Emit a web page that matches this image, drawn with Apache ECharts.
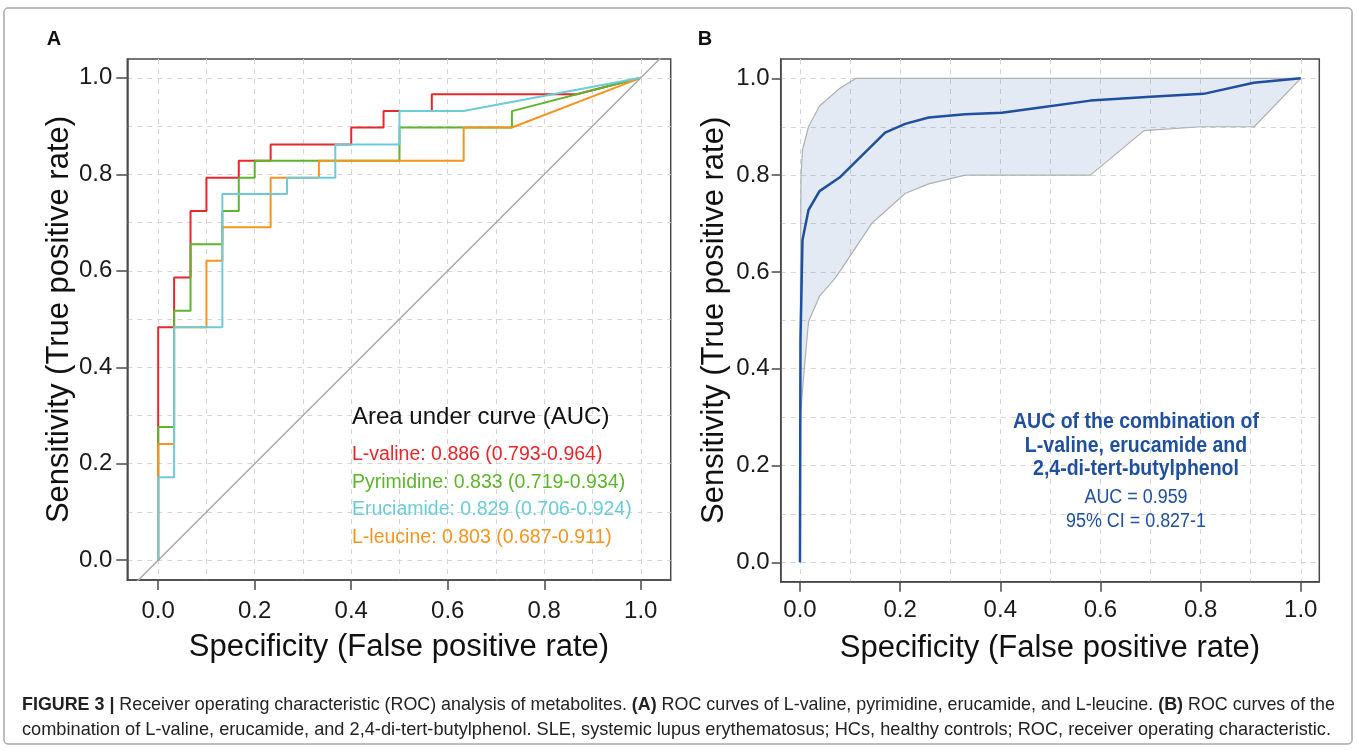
<!DOCTYPE html>
<html>
<head>
<meta charset="utf-8">
<script src="https://cdn.jsdelivr.net/npm/echarts@6/dist/echarts.min.js"></script>
<style>
html, body { margin: 0; padding: 0; background: #fff; }
#main { width: 1357px; height: 750px; }
</style>
</head>
<body>
<div id="main"></div>
<script>
// axis ticks
var tickLabels = [0, 0.2, 0.4, 0.6, 0.8, 1.0];
var gridTicks = [0, 0.1, 0.2, 0.3, 0.4, 0.5, 0.6, 0.7, 0.8, 0.9, 1.0];

// panel A: ROC steps [false positive rate, true positive rate]
var valine = [[0,0],[0,0.483],[0.033,0.483],[0.033,0.586],[0.067,0.586],[0.067,0.724],[0.1,0.724],[0.1,0.793],
  [0.167,0.793],[0.167,0.828],[0.233,0.828],[0.233,0.862],[0.4,0.862],[0.4,0.897],[0.467,0.897],[0.467,0.931],
  [0.567,0.931],[0.567,0.966],[0.867,0.966],[1,1]];
var pyrimidine = [[0,0],[0,0.276],[0.033,0.276],[0.033,0.517],[0.067,0.517],[0.067,0.655],[0.133,0.655],[0.133,0.724],
  [0.167,0.724],[0.167,0.793],[0.2,0.793],[0.2,0.828],[0.5,0.828],[0.5,0.897],[0.733,0.897],[0.733,0.931],[1,1]];
var eruciamide = [[0,0],[0,0.172],[0.033,0.172],[0.033,0.483],[0.133,0.483],[0.133,0.759],[0.267,0.759],[0.267,0.793],
  [0.367,0.793],[0.367,0.862],[0.5,0.862],[0.5,0.931],[0.633,0.931],[1,1]];
var leucine = [[0,0],[0,0.241],[0.033,0.241],[0.033,0.483],[0.1,0.483],[0.1,0.621],[0.133,0.621],[0.133,0.69],
  [0.233,0.69],[0.233,0.793],[0.333,0.793],[0.333,0.828],[0.633,0.828],[0.633,0.897],[0.733,0.897],[1,1]];
var chance = [[-0.05,-0.05],[1.05,1.05]];
var aucTitle = 'Area under curve (AUC)';
var aucLabels = ['L-valine: 0.886 (0.793-0.964)', 'Pyrimidine: 0.833 (0.719-0.934)',
  'Eruciamide: 0.829 (0.706-0.924)', 'L-leucine: 0.803 (0.687-0.911)'];

// panel B: combined model and its confidence band
var combo = [[0,0],[0.001,0.46],[0.005,0.666],[0.017,0.728],[0.039,0.767],[0.079,0.795],[0.17,0.888],[0.21,0.906],
  [0.257,0.919],[0.33,0.926],[0.403,0.929],[0.48,0.94],[0.58,0.954],[0.7,0.962],[0.806,0.968],[0.906,0.991],[1,1]];
var ciUpper = [[0,0],[0.001,0.6],[0.002,0.797],[0.005,0.852],[0.017,0.9],[0.039,0.943],[0.079,0.979],[0.112,1],[1,1]];
var ciLower = [[0,0],[0.001,0.3],[0.005,0.356],[0.017,0.497],[0.039,0.55],[0.067,0.583],[0.079,0.6],[0.143,0.7],
  [0.21,0.762],[0.257,0.782],[0.33,0.8],[0.58,0.8],[0.687,0.892],[0.8,0.9],[0.907,0.9],[1,1]];
var comboText = ['AUC of the combination of', 'L-valine, erucamide and', '2,4-di-tert-butylphenol'];
var comboStats = ['AUC = 0.959', '95% CI = 0.827-1'];

var captionLine1 = 'Receiver operating characteristic (ROC) analysis of metabolites. ';
var captionA = 'ROC curves of L-valine, pyrimidine, erucamide, and L-leucine. ';
var captionB = 'ROC curves of the';
var captionLine2 = 'combination of L-valine, erucamide, and 2,4-di-tert-butylphenol. SLE, systemic lupus erythematosus; HCs, healthy controls; ROC, receiver operating characteristic.';

var sans = '"Liberation Sans", Arial, Helvetica, sans-serif';
var colors = ['#e8262b', '#5db52b', '#f7941d', '#6ccbd9'];
var blue = '#1f4f9f';

// no condensed face is installed: squeeze regular text horizontally to the width it has in the figure
var ctx = document.createElement('canvas').getContext('2d');
function squeeze(text, font, width) {
  ctx.font = font;
  return width / ctx.measureText(text).width;
}
var capFont = '19px ' + sans;
var capBold = 'bold 19px ' + sans;
var capScale = squeeze(captionLine2, capFont, 1309);
ctx.font = capBold;
var boldW = ctx.measureText('FIGURE 3 |(A)(B)').width;
ctx.font = capFont;
var line1W = boldW + ctx.measureText('  ' + captionLine1 + captionA + captionB).width;
var capScale1 = 1308 / line1W;
var boldFont = 'bold 22.5px ' + sans;
var boldScale = squeeze(comboText[0], boldFont, 246);
var statFont = '20px ' + sans;
var statScale = squeeze(comboStats[1], statFont, 140);

function gridAxis(gi, min, max, pos) {
  return {
    type: 'value', gridIndex: gi, min: min, max: max, position: pos,
    axisLine: { show: false, onZero: false },
    axisTick: { show: false, customValues: gridTicks },
    axisLabel: { show: false },
    splitLine: { show: true, lineStyle: { color: '#d5d5d5', type: [5, 5], width: 1 } }
  };
}
function tickAxis(gi, min, max, pos, name, nameGap, tickLen, margin) {
  return {
    type: 'value', gridIndex: gi, min: min, max: max, position: pos,
    axisLine: { show: true, onZero: false, lineStyle: { color: '#4a4a4a', width: 1.5 } },
    axisTick: { show: true, customValues: tickLabels, length: tickLen, lineStyle: { color: '#4a4a4a', width: 1.5 } },
    axisLabel: {
      customValues: tickLabels, margin: margin, fontSize: 24, color: '#1a1a1a', fontFamily: sans,
      formatter: function (v) { return v.toFixed(1); }
    },
    splitLine: { show: false },
    name: name, nameLocation: 'middle', nameGap: nameGap,
    nameTextStyle: { fontSize: 31, color: '#111', fontFamily: sans }
  };
}

var xName = 'Specificity (False positive rate)';
var yName = 'Sensitivity (True positive rate)';

function stepLine(name, data, color) {
  return {
    name: name, type: 'line', xAxisIndex: 0, yAxisIndex: 0, data: data,
    symbol: 'none', lineStyle: { color: color, width: 2 }, itemStyle: { color: color }, silent: true
  };
}

var chart = echarts.init(document.getElementById('main'), null, { renderer: 'canvas' });

var graphics = [
  { type: 'rect', z: 10, shape: { x: 4, y: 8, width: 1348, height: 736, r: 4 }, style: { fill: 'none', stroke: '#a8a8a8', lineWidth: 1.5 }, silent: true },
  { type: 'text', z: 10, x: 54, y: 39, style: { text: 'A', font: 'bold 20px ' + sans, fill: '#111', align: 'center', verticalAlign: 'middle' } },
  { type: 'text', z: 10, x: 705, y: 39, style: { text: 'B', font: 'bold 20px ' + sans, fill: '#111', align: 'center', verticalAlign: 'middle' } },
  { type: 'text', z: 10, x: 352, y: 417, style: { text: aucTitle, font: '24px ' + sans, fill: '#111', verticalAlign: 'middle' } }
];
var labelColors = [colors[0], colors[1], colors[3], colors[2]];
var labelY = [455, 483, 510, 538];
aucLabels.forEach(function (t, i) {
  graphics.push({ type: 'text', z: 10, x: 352, y: labelY[i], style: { text: t, font: '19.5px ' + sans, fill: labelColors[i], verticalAlign: 'middle' } });
});
var comboY = [422, 446, 469];
comboText.forEach(function (t, i) {
  graphics.push({ type: 'text', z: 10, x: 1136, y: comboY[i], scaleX: boldScale, style: { text: t, font: boldFont, fill: blue, align: 'center', verticalAlign: 'middle' } });
});
var statY = [497, 521];
comboStats.forEach(function (t, i) {
  graphics.push({ type: 'text', z: 10, x: 1136, y: statY[i], scaleX: statScale, style: { text: t, font: statFont, fill: blue, align: 'center', verticalAlign: 'middle' } });
});
graphics.push({
  type: 'text', z: 10, x: 22, y: 705, scaleX: capScale1,
  style: {
    text: '{b|FIGURE 3 |} ' + captionLine1 + '{b|(A)} ' + captionA + '{b|(B)} ' + captionB,
    font: capFont, fill: '#222', verticalAlign: 'middle',
    rich: { b: { fontWeight: 'bold', fontSize: 19, fontFamily: sans, fill: '#222' } }
  }
});
graphics.push({
  type: 'text', z: 10, x: 22, y: 730, scaleX: capScale,
  style: { text: captionLine2, font: capFont, fill: '#222', verticalAlign: 'middle' }
});

var option = {
  animation: false,
  backgroundColor: '#fff',
  grid: [
    { left: 127.3, top: 59, width: 543.4, height: 521, show: true, borderColor: '#4a4a4a', borderWidth: 1.5, backgroundColor: 'transparent' },
    { left: 780.7, top: 59, width: 538.6, height: 522.7, show: true, borderColor: '#4a4a4a', borderWidth: 1.5, backgroundColor: 'transparent' }
  ],
  xAxis: [
    gridAxis(0, -0.064, 1.062, 'bottom'),
    tickAxis(0, -0.064, 1.062, 'bottom', xName, 52, 10, 19),
    gridAxis(1, -0.0385, 1.037, 'bottom'),
    tickAxis(1, -0.0385, 1.037, 'bottom', xName, 51, 10, 17)
  ],
  yAxis: [
    gridAxis(0, -0.041, 1.039, 'left'),
    tickAxis(0, -0.041, 1.039, 'left', yName, 44, 11, 15),
    gridAxis(1, -0.04, 1.04, 'left'),
    tickAxis(1, -0.04, 1.04, 'left', yName, 51, 9, 11)
  ],
  series: [
    {
      type: 'line', xAxisIndex: 0, yAxisIndex: 0, data: chance, symbol: 'none', silent: true,
      lineStyle: { color: '#a9a9a9', width: 1.5 }
    },
    stepLine('L-valine', valine, colors[0]),
    stepLine('Pyrimidine', pyrimidine, colors[1]),
    stepLine('L-leucine', leucine, colors[2]),
    stepLine('Eruciamide', eruciamide, colors[3]),
    {
      type: 'custom', xAxisIndex: 2, yAxisIndex: 2, data: [[0, 0]], silent: true, z: 1,
      renderItem: function (params, api) {
        var pts = ciUpper.concat(ciLower.slice().reverse()).map(function (p) { return api.coord(p); });
        return { type: 'polygon', shape: { points: pts }, style: { fill: 'rgba(31,79,159,0.12)' } };
      }
    },
    {
      type: 'line', xAxisIndex: 2, yAxisIndex: 2, data: ciUpper, symbol: 'none', silent: true,
      lineStyle: { color: '#b0b0b0', width: 1.2 }
    },
    {
      type: 'line', xAxisIndex: 2, yAxisIndex: 2, data: ciLower, symbol: 'none', silent: true,
      lineStyle: { color: '#b0b0b0', width: 1.2 }
    },
    {
      type: 'line', xAxisIndex: 2, yAxisIndex: 2, data: combo, symbol: 'none', silent: true,
      lineStyle: { color: blue, width: 2.5 }
    }
  ],
  graphic: graphics
};
chart.setOption(option);
</script>
</body>
</html>
